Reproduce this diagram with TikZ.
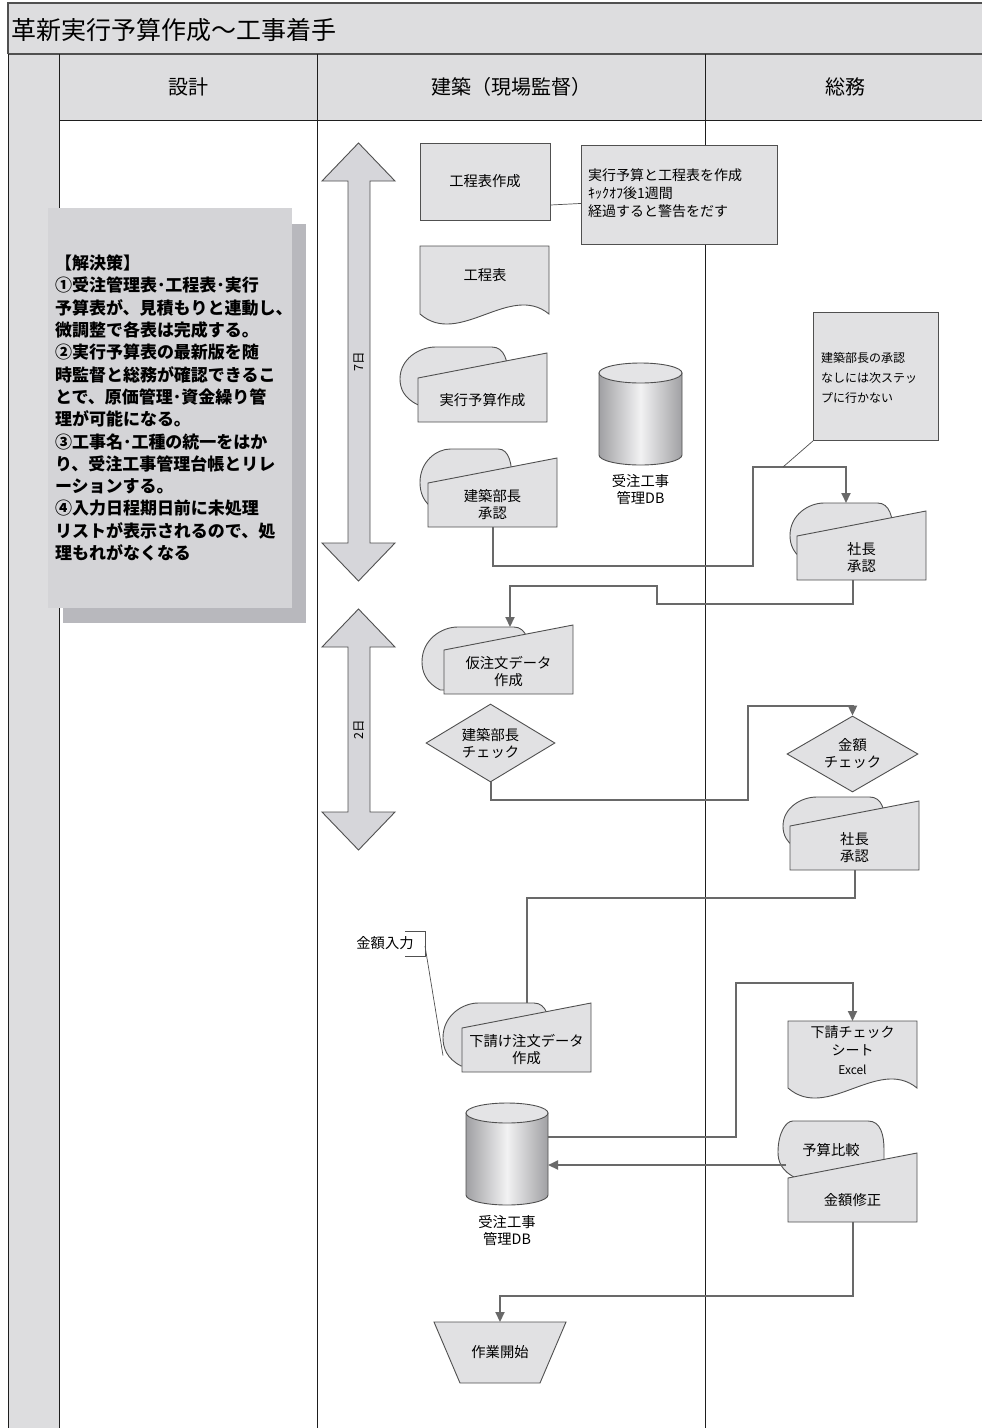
\documentclass[tikz,border=0pt]{standalone}
\usepackage{fontspec}
\setmainfont{Noto Sans CJK JP}
\usetikzlibrary{arrows.meta,shapes.geometric,calc}
\definecolor{LaneBlack}{RGB}{30,30,30}
\definecolor{BandGray}{RGB}{221,221,223}
\definecolor{BoxGray}{RGB}{225,225,227}
\definecolor{EdgeGray}{RGB}{80,80,80}
\definecolor{FlowGray}{RGB}{105,105,105}
\definecolor{MemoGray}{RGB}{212,212,215}
\definecolor{ShadowGray}{RGB}{184,184,189}
\definecolor{SpanGray}{RGB}{214,214,218}
\definecolor{CylDark}{RGB}{160,160,163}
\definecolor{CylLight}{RGB}{242,242,243}
\definecolor{CylTop}{RGB}{228,228,230}

% display blob: [bulge], name, left, top, right, bottom
\newcommand{\dispblob}[6][0.33]{%
  \node[area, minimum width={#5-#3}, minimum height={#6-#4}, anchor=north west] (#2) at (#3,#4) {};
  \draw[shp] ({#3+#1*(#5-#3)},#4) -- ({#5-0.15*(#5-#3)},#4)
    .. controls ({#5-0.03*(#5-#3)},#4) and (#5,{#4+0.25*(#6-#4)}) .. (#5,{#4+0.5*(#6-#4)})
    -- (#5,#6) -- ({#3+0.17*(#5-#3)},#6)
    .. controls ({#3+0.03*(#5-#3)},{#6-0.12*(#6-#4)}) and (#3,{#6-0.3*(#6-#4)}) .. (#3,{#4+0.55*(#6-#4)})
    .. controls (#3,{#4+0.2*(#6-#4)}) and ({#3+0.55*#1*(#5-#3)},#4) .. ({#3+#1*(#5-#3)},#4) -- cycle;
}
% manual input: name, left, top (right corner), text
\newcommand{\maninput}[4]{%
  \node[area, minimum width=129, minimum height=69, anchor=north west] (#1) at (#2,#3) {};
  \draw[shp] (#1.south west) -- (#1.south east) -- (#1.north east) -- ([yshift=-25pt]#1.north west) -- cycle;
  \node (#1-t) at ([yshift=22pt]#1.south) {#4};
}
% document: name, left, top, bottom
\newcommand{\docsheet}[4]{%
  \node[area, minimum width=129, minimum height={#4-#3}, anchor=north west] (#1) at (#2,#3) {};
  \draw[shp] (#1.south east) -- (#1.north east) -- (#1.north west) -- (#1.south west)
    .. controls +(39,34) and +(-39,-32) .. (#1.south east) -- cycle;
}
% cylinder: name, left, top, right, bottom
\newcommand{\dbcyl}[5]{%
  \node[area, minimum width={#4-#2}, minimum height={#5-#3}, anchor=north west] (#1) at (#2,#3) {};
  \shade[left color=CylDark, right color=CylDark, middle color=CylLight, draw=EdgeGray, line width=0.9pt]
    (#2,{#3+10}) -- (#2,{#5-10})
    .. controls (#2,{#5-4.5}) and ({#2+0.224*(#4-#2)},#5) .. ({(#2+#4)/2},#5)
    .. controls ({#4-0.224*(#4-#2)},#5) and (#4,{#5-4.5}) .. (#4,{#5-10}) -- (#4,{#3+10}) -- cycle;
  \draw[draw=EdgeGray, fill=CylTop, line width=0.9pt] ({(#2+#4)/2},{#3+10}) ellipse [x radius={(#4-#2)/2}, y radius=10];
}

\begin{document}
\begin{tikzpicture}[x=1pt, y=-1pt,
  every node/.style={font=\fontsize{14.3}{17}\selectfont, align=center, inner sep=0pt},
  area/.style={inner sep=0pt, outer sep=0pt},
  shp/.style={draw=EdgeGray, fill=BoxGray, line width=0.9pt},
  boxs/.style={shp, minimum width=130, minimum height=77},
  notebox/.style={shp, anchor=north west},
  dia/.style={shp, diamond, aspect=1.65},
  span/.style={draw=EdgeGray, fill=SpanGray, line width=0.9pt},
  flow/.style={draw=FlowGray, line width=2pt},
  tip/.style={flow, -{Triangle[length=10pt,width=9pt]}},
  lane/.style={draw=LaneBlack, line width=0.9pt},
  callout/.style={draw=EdgeGray, line width=0.7pt}
]
\useasboundingbox (0,0) rectangle (982,1428);
\fill[white] (0,0) rectangle (982,1428);

% frame and lanes
\fill[BandGray] (8,3) rectangle (982,54);
\fill[BandGray] (8,54) rectangle (59,1428);
\fill[BandGray] (59,54) rectangle (982,120);
\draw[lane, draw=EdgeGray, line width=1.6pt] (8,54) -- (8,3) -- (982,3);
\draw[lane, draw=EdgeGray, line width=1.6pt] (8,54) -- (982,54);
\draw[lane] (8,54) -- (8,1428);
\draw[lane] (59,54) -- (59,1428);
\draw[lane] (59,120) -- (982,120);
\draw[lane] (317,54) -- (317,1428);
\draw[lane] (705,54) -- (705,1428);

\node[anchor=west, font=\fontsize{25}{30}\selectfont] (title) at (11,30) {革新実行予算作成〜工事着手};
\node[font=\fontsize{20}{24}\selectfont] (design) at (188,87) {設計};
\node[font=\fontsize{20}{24}\selectfont] (site) at (511,87) {建築（現場監督）};
\node[font=\fontsize{20}{24}\selectfont] (admin) at (845,87) {総務};

% memo
\fill[ShadowGray] (63,224) rectangle (306,623);
\node[fill=MemoGray, minimum height=400, inner xsep=7pt, text width=230, align=left,
  font=\bfseries\fontsize{17}{22.3}\selectfont] (memo) at (170,408)
  {【解決策】\\①受注管理表･工程表･実行\\予算表が、見積もりと連動し、\\微調整で各表は完成する。\\②実行予算表の最新版を随\\時監督と総務が確認できるこ\\とで、原価管理･資金繰り管\\理が可能になる。\\③工事名･工種の統一をはか\\り、受注工事管理台帳とリレ\\ーションする。\\④入力日程期日前に未処理\\リストが表示されるので、処\\理もれがなくなる};

% span arrows
\draw[span] (348,181) -- (322,181) -- (358.5,143) -- (395,181) -- (370,181) -- (370,543) -- (395,543) -- (358.5,581) -- (322,543) -- (348,543) -- cycle;
\node[rotate=90, font=\fontsize{12.5}{15}\selectfont] (span7) at (359,362) {7日};
\draw[span] (348,647) -- (322,647) -- (358.5,609) -- (395,647) -- (370,647) -- (370,812) -- (395,812) -- (358.5,850) -- (322,812) -- (348,812) -- cycle;
\node[rotate=90, font=\fontsize{12.5}{15}\selectfont] (span2) at (359,730) {2日};

% build lane
\node[boxs] (koutei) at (485,181.5) {工程表作成};
\node[notebox, minimum width=196, minimum height=99] (memo1) at (581,145) {};
\node[anchor=west, align=left, font=\fontsize{14}{18}\selectfont] (memo1-t) at (588,193) {実行予算と工程表を作成\\ｷｯｸｵﾌ後1週間\\経過すると警告をだす};
\draw[callout] ([yshift=-23.5pt]koutei.east) -- ([yshift=-8.5pt]memo1.west);

\docsheet{kouteihyo}{420}{246}{314}
\node (kouteihyo-t) at (485,275) {工程表};

\dispblob{jikko-b}{400}{347}{508}{405}
\maninput{jikko}{418}{353}{実行予算作成}

\dbcyl{db1}{599}{363}{682}{465}
\node (db1-t) at (640.5,490) {受注工事\\管理DB};

\dispblob{bucho-b}{420}{449}{512}{510}
\maninput{bucho}{428}{458}{建築部長\\承認}

\node[notebox, minimum width=125, minimum height=128] (memo2) at (813,312) {};
\node[anchor=west, align=left, font=\fontsize{12}{20}\selectfont] (memo2-t) at (821,378) {建築部長の承認\\なしには次ステッ\\プに行かない};

\dispblob{shacho1-b}{790}{503}{893}{562}
\maninput{shacho1}{797}{511}{社長\\承認}

\dispblob{kari-b}{422}{627}{530}{690}
\maninput{kari}{444}{625}{仮注文データ\\作成}

\node[dia, minimum width=129, minimum height=78] (chk1) at (490.5,743) {建築部長\\チェック};
\node[dia, minimum width=131, minimum height=76] (chk2) at (852.5,754) {金額\\チェック};

\dispblob{shacho2-b}{783}{797}{885}{850}
\maninput{shacho2}{790}{801}{社長\\承認}

\node (kin-in) at (385,943) {金額入力};
\draw[callout] (405,931) -- (425,931) -- (425,956) -- (405,956);
\coordinate (kin-br) at (425,946);

\dispblob{sub-b}{443}{1003}{550}{1066}
\maninput{sub}{462}{1003}{下請け注文データ\\作成}
\draw[callout] (kin-br) -- ([yshift=-21pt]sub-b.west);

\docsheet{check}{788}{1021}{1088}
\node[font=\fontsize{14}{18.5}\selectfont] (check-t) at (852.5,1050) {下請チェック\\シート\\{\fontsize{12}{18.5}\selectfont Excel}};

\dbcyl{db2}{466}{1103}{548}{1205}
\node (db2-t) at (507,1231) {受注工事\\管理DB};

\dispblob[0.14]{yosan}{778}{1121}{884}{1178}
\node (yosan-t) at (831,1150) {予算比較};
\maninput{kingaku}{788}{1153}{金額修正}

\node[area, minimum width=132, minimum height=61] (start) at (500,1352.5) {};
\draw[shp] (start.north west) -- (start.north east) -- ([xshift=-26pt]start.south east) -- ([xshift=26pt]start.south west) -- cycle;
\node (start-t) at (start) {作業開始};

% flows
\draw[tip] (bucho.south) |- (753,566) |- (846,467) -- (846,0 |- shacho1-b.north);
\coordinate (c1knee) at (783,467);
\draw[callout] (memo2.south west) -- (c1knee);
\draw[tip] (853,0 |- shacho1.south) |- (657,604) |- (510,586) -- (510,0 |- kari-b.north);
\draw[tip] (chk1.south) |- (748,800) |- (852.5,706) -- (chk2.north);
\draw[flow] (855,0 |- shacho2.south) |- (527,898) -- (527,0 |- sub-b.north);
\draw[tip] ([yshift=17pt]db2.east) -| (736,983) -| (check.north);
\coordinate (yosan-l) at (786,1165);
\draw[tip] (yosan-l) -- (yosan-l -| db2.east);
\draw[tip] (853,0 |- kingaku.south) |- (500,1296) -- (start.north);
\end{tikzpicture}
\end{document}
